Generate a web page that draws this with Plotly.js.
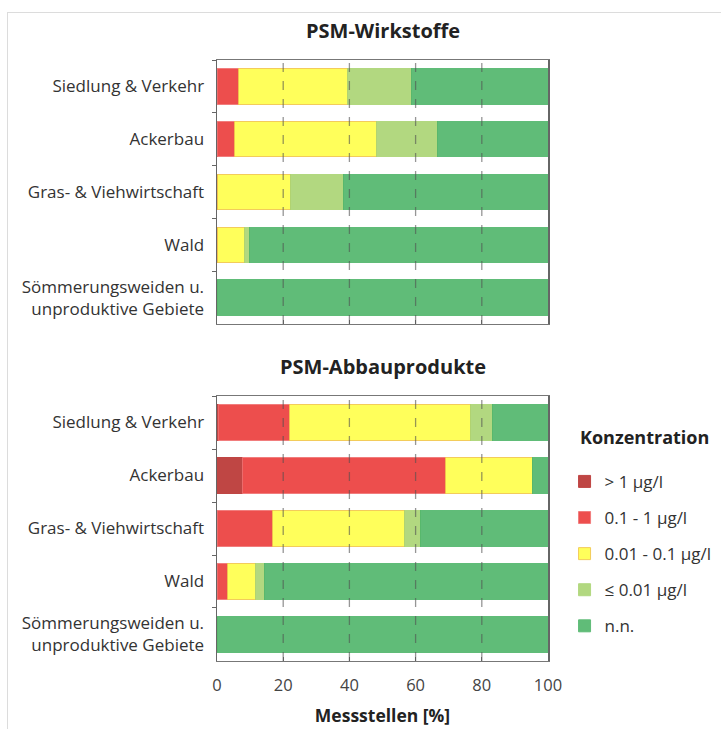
<!DOCTYPE html>
<html>
<head>
<meta charset="utf-8">
<script src="https://cdn.plot.ly/plotly-3.0.1.min.js"></script>
<style>
  html, body { margin: 0; padding: 0; background: #fff; }
  #chart { width: 721px; height: 729px; position: absolute; left: 0; top: 0; }
  #frame { position: absolute; left: 7px; top: 12px; width: 730px; height: 730px; border: 1px solid #dcdcdc; pointer-events: none; }
</style>
</head>
<body>
<div id="chart"></div>
<div id="frame"></div>
<script>
// Categories (top to bottom)
const categories = [
  "Siedlung & Verkehr",
  "Ackerbau",
  "Gras- & Viehwirtschaft",
  "Wald",
  "Sömmerungsweiden u.<br>unproduktive Gebiete"
];
const seriesNames = ["> 1 µg/l", "0.1 - 1 µg/l", "0.01 - 0.1 µg/l", "≤ 0.01 µg/l", "n.n."];
const panelTitles = ["PSM-Wirkstoffe", "PSM-Abbauprodukte"];
const legendTitle = "Konzentration";
const xTitle = "Messstellen [%]";
const xTicks = [0, 20, 40, 60, 80, 100];
const gridTicks = [20, 40, 60, 80];

// PSM-Wirkstoffe (% of Messstellen), per category
const wirk_gt1      = [0,    0,    0,    0,    0];
const wirk_01_1     = [6.6,  5.4,  0,    0,    0];
const wirk_001_01   = [32.9, 42.8, 22.3, 8.2,  0];
const wirk_le001    = [19.3, 18.5, 16.0, 1.6,  0];
const wirk_nn       = [41.2, 33.3, 61.7, 90.2, 100];

// PSM-Abbauprodukte (% of Messstellen), per category
const abb_gt1       = [0.4,  7.6,  0,    0,    0];
const abb_01_1      = [21.4, 61.5, 16.8, 3.3,  0];
const abb_001_01    = [54.7, 26.2, 39.7, 8.4,  0];
const abb_le001     = [6.7,  0,    4.9,  2.7,  0];
const abb_nn        = [16.8, 4.7,  38.6, 85.6, 100];

const colors = ["#B93230", "#EC3B3A", "#FFFF4A", "#AAD473", "#4FB56A"];
const lineColors = ["#B93230", "#F07070", "#F2C74A", "#AAD473", "#4FB56A"];

const wirk = [wirk_gt1, wirk_01_1, wirk_001_01, wirk_le001, wirk_nn];
const abb  = [abb_gt1, abb_01_1, abb_001_01, abb_le001, abb_nn];

const font = "'Open Sans', sans-serif";
const traces = [];
[wirk, abb].forEach((panel, p) => {
  panel.forEach((vals, i) => {
    traces.push({
      type: "bar",
      orientation: "h",
      x: vals,
      y: categories,
      name: seriesNames[i],
      legendgroup: "g" + i,
      showlegend: p === 1,
      xaxis: p === 0 ? "x" : "x2",
      yaxis: p === 0 ? "y" : "y2",
      width: 0.67,
      opacity: 0.9,
      marker: { color: colors[i], line: { color: lineColors[i], width: 1 } },
      hoverinfo: "x+name"
    });
  });
});

const xBase = {
  range: [0, 100],
  tickvals: xTicks,
  showgrid: false,
  showline: true,
  linecolor: "#777",
  linewidth: 1,
  mirror: true,
  ticks: "inside",
  ticklen: 4,
  tickcolor: "#777",
  zeroline: false,
  fixedrange: true,
  ticklabelstandoff: 9,
  tickfont: { family: font, size: 16.5, color: "#444" }
};
const yBase = {
  type: "category",
  autorange: "reversed",
  showline: true,
  linecolor: "#666",
  linewidth: 1.5,
  mirror: true,
  ticks: "outside",
  tickson: "boundaries",
  ticklen: 4,
  tickcolor: "#666",
  showgrid: false,
  fixedrange: true,
  ticklabelstandoff: 8,
  tickfont: { family: font, size: 17, color: "#333" }
};

// dashed gridlines drawn above the (slightly transparent) bars
const shapes = [];
["x", "x2"].forEach((xa, k) => {
  gridTicks.forEach(v => {
    shapes.push({
      type: "line", layer: "above",
      xref: xa, yref: (k === 0 ? "y" : "y2") + " domain",
      x0: v, x1: v, y0: 0, y1: 1,
      line: { color: "rgba(80,80,80,0.6)", width: 1.3, dash: "dash" }
    });
  });
});

const layout = {
  width: 721,
  height: 729,
  paper_bgcolor: "#fff",
  plot_bgcolor: "#fff",
  barmode: "stack",
  margin: { l: 217, r: 173, t: 60, b: 68, autoexpand: false },
  showlegend: true,
  shapes: shapes,
  xaxis: Object.assign({}, xBase, { anchor: "y", showticklabels: false }),
  yaxis: Object.assign({}, yBase, { domain: [0.5607, 1], anchor: "x" }),
  xaxis2: Object.assign({}, xBase, {
    anchor: "y2",
    title: { text: "<b>" + xTitle + "</b>", font: { family: font, size: 17.5, color: "#222" }, standoff: 14 }
  }),
  yaxis2: Object.assign({}, yBase, { domain: [0, 0.4409], anchor: "x2" }),
  legend: {
    x: 1.05, xanchor: "left",
    y: 0.328, yanchor: "top",
    traceorder: "grouped",
    tracegroupgap: 11,
    font: { family: font, size: 17, color: "#333" },
    bgcolor: "rgba(0,0,0,0)"
  },
  annotations: [
    { text: "<b>" + panelTitles[0] + "</b>", xref: "x domain", yref: "paper", x: 0.5, y: 1, yanchor: "bottom", yshift: 14, showarrow: false, font: { family: font, size: 20, color: "#222" } },
    { text: "<b>" + panelTitles[1] + "</b>", xref: "x2 domain", yref: "paper", x: 0.5, y: 0.4409, yanchor: "bottom", yshift: 14, showarrow: false, font: { family: font, size: 20, color: "#222" } },
    { text: "<b>" + legendTitle + "</b>", xref: "paper", yref: "paper", x: 1.092, y: 0.3727, xanchor: "left", yanchor: "middle", showarrow: false, font: { family: font, size: 18, color: "#222" } }
  ]
};

Plotly.newPlot("chart", traces, layout, { displayModeBar: false, staticPlot: true });
</script>
</body>
</html>
